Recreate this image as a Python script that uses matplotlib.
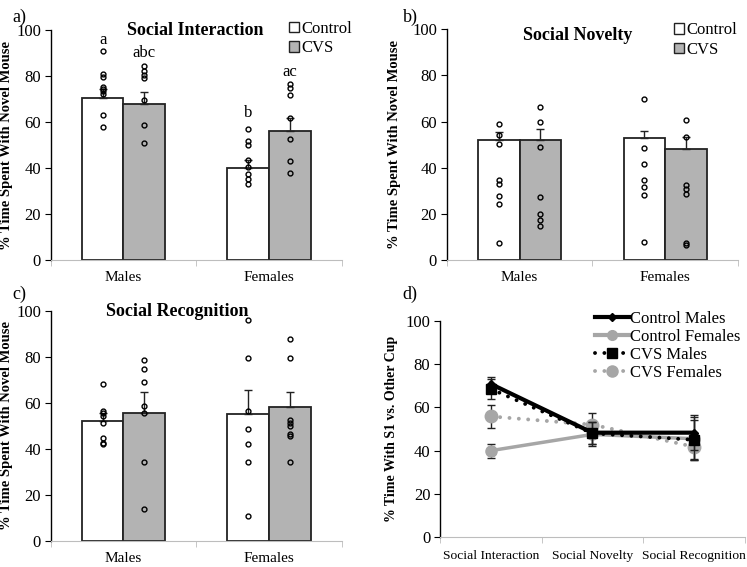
import matplotlib.pyplot as plt
from matplotlib.patches import Patch
from matplotlib.lines import Line2D

plt.rcParams['font.family'] = ['Liberation Serif', 'DejaVu Serif']

groups = ['Males', 'Females']
ctrl_color = 'white'
cvs_color = '#b3b3b3'

# a) social interaction
si_ctrl_mean = [70.4, 40.0]
si_ctrl_sem = [3.8, 3.3]
si_cvs_mean = [67.8, 55.9]
si_cvs_sem = [5.2, 6.0]
si_ctrl_pts = [[90.9, 80.9, 79.4, 75.2, 74.5, 73.5, 72.3, 62.9, 57.7],
               [57.0, 51.6, 49.9, 43.3, 40.4, 37.2, 35.2, 33.0]]
si_cvs_pts = [[84.2, 82.0, 80.6, 79.3, 69.4, 58.8, 50.9],
              [76.4, 74.8, 71.6, 61.9, 52.8, 43.0, 37.7]]
si_letters = [['a', 'abc'], ['b', 'ac']]

# b) social novelty
sn_ctrl_mean = [51.9, 52.7]
sn_ctrl_sem = [3.7, 3.2]
sn_cvs_mean = [51.9, 48.1]
sn_cvs_sem = [4.9, 5.2]
sn_ctrl_pts = [[59.0, 54.2, 50.4, 34.7, 33.0, 27.6, 24.4, 7.4],
               [69.8, 48.7, 41.8, 34.7, 31.5, 28.3, 7.9]]
sn_cvs_pts = [[66.3, 60.0, 49.1, 27.5, 19.8, 17.3, 14.7],
              [60.7, 53.3, 32.5, 30.8, 28.5, 7.2, 6.4]]

# c) social recognition
sr_ctrl_mean = [52.0, 54.9]
sr_ctrl_sem = [3.4, 10.6]
sr_cvs_mean = [55.4, 58.0]
sr_cvs_sem = [9.1, 6.6]
sr_ctrl_pts = [[68.3, 56.5, 55.5, 54.2, 51.0, 44.8, 42.6, 41.9],
               [95.8, 79.3, 56.5, 48.4, 42.0, 34.3, 10.9]]
sr_cvs_pts = [[78.4, 74.8, 69.0, 58.7, 55.4, 34.1, 13.8],
              [87.8, 79.3, 52.3, 51.0, 50.0, 46.2, 45.7, 34.3]]

# d) time with S1 vs other cup
tests = ['Social Interaction', 'Social Novelty', 'Social Recognition']
ctrl_m = [70.8, 48.3, 48.3]
ctrl_m_err = [3.4, 5.0, 8.0]
ctrl_f = [40.0, 47.5, 45.5]
ctrl_f_err = [3.3, 5.5, 10.0]
cvs_m = [68.5, 48.0, 45.0]
cvs_m_err = [4.5, 5.0, 9.0]
cvs_f = [55.8, 52.0, 41.8]
cvs_f_err = [5.2, 5.2, 6.0]

fig = plt.figure(figsize=(7.47, 5.67), dpi=100)

w = 0.286
dots = (0, (0.01, 2.4))


def style_axis(ax, ncat, ylabel, xlab):
    ax.set_xlim(0, ncat)
    ax.set_ylim(0, 100)
    ax.set_yticks(range(0, 101, 20))
    ax.spines['top'].set_visible(False)
    ax.spines['right'].set_visible(False)
    ax.spines['bottom'].set_color('#bdbdbd')
    ax.spines['left'].set_linewidth(1.0)
    ax.set_xticks([i + 0.5 for i in range(ncat)])
    ax.set_xticklabels(xlab)
    ax.set_xticks(range(ncat + 1), minor=True)
    ax.tick_params(axis='x', which='major', length=0, pad=8, labelsize=11)
    ax.tick_params(axis='x', which='minor', length=4, color='#bdbdbd')
    ax.tick_params(axis='y', length=4, pad=3, labelsize=12)
    ax.set_ylabel(ylabel, fontweight='bold', fontsize=10.5)


def draw_bars(ax, cm, cs, vm, vs, cp, vp):
    xc = [i + 0.5 - w for i in range(2)]
    xv = [i + 0.5 for i in range(2)]
    ax.bar(xc, cm, width=w, align='edge', color=ctrl_color, edgecolor='#222222', linewidth=1.3, zorder=2)
    ax.bar(xv, vm, width=w, align='edge', color=cvs_color, edgecolor='#222222', linewidth=1.3, zorder=2)
    ax.errorbar([x + w / 2 for x in xc], cm, yerr=[[0, 0], cs], fmt='none', ecolor='#222222',
                elinewidth=1, capsize=3, zorder=3)
    ax.errorbar([x + w / 2 for x in xv], vm, yerr=[[0, 0], vs], fmt='none', ecolor='#222222',
                elinewidth=1, capsize=3, zorder=3)
    for i in range(2):
        ax.plot([xc[i] + w / 2] * len(cp[i]), cp[i], 'o', mfc='none', mec='black', ms=3.5, mew=1, zorder=4)
        ax.plot([xv[i] + w / 2] * len(vp[i]), vp[i], 'o', mfc='none', mec='black', ms=3.5, mew=1, zorder=4)


def bar_legend(ax, x, y):
    handles = [Patch(facecolor=ctrl_color, edgecolor='#222222', linewidth=1),
               Patch(facecolor=cvs_color, edgecolor='#222222', linewidth=1)]
    ax.legend(handles, ['Control', 'CVS'], loc='upper left', bbox_to_anchor=(x, y), frameon=False,
              fontsize=12, handlelength=0.6, handleheight=0.6, handletextpad=0.15, labelspacing=0.2,
              borderaxespad=0, borderpad=0)


ylab = '% Time Spent With Novel Mouse'

# a)
ax1 = fig.add_axes([0.0679, 0.5414, 0.3896, 0.4056])
draw_bars(ax1, si_ctrl_mean, si_ctrl_sem, si_cvs_mean, si_cvs_sem, si_ctrl_pts, si_cvs_pts)
style_axis(ax1, 2, ylab, groups)
letter_y = [[95.6, 89.9], [63.8, 81.9]]
for i in range(2):
    ax1.text(i + 0.5 - w / 2, letter_y[i][0], si_letters[i][0], ha='center', va='center', fontsize=12)
    ax1.text(i + 0.5 + w / 2, letter_y[i][1], si_letters[i][1], ha='center', va='center', fontsize=12)
ax1.text(0.496, 1.0, 'Social Interaction', transform=ax1.transAxes, ha='center', va='center',
         fontsize=13, fontweight='bold')
bar_legend(ax1, 0.82, 1.04)
ax1.yaxis.set_label_coords(-0.128, 0.5)

# b)
ax2 = fig.add_axes([0.598, 0.5414, 0.390, 0.4070])
draw_bars(ax2, sn_ctrl_mean, sn_ctrl_sem, sn_cvs_mean, sn_cvs_sem, sn_ctrl_pts, sn_cvs_pts)
style_axis(ax2, 2, ylab, groups)
ax2.text(0.45, 0.975, 'Social Novelty', transform=ax2.transAxes, ha='center', va='center',
         fontsize=13, fontweight='bold')
bar_legend(ax2, 0.78, 1.03)
ax2.yaxis.set_label_coords(-0.158, 0.5)

# c)
ax3 = fig.add_axes([0.0679, 0.0464, 0.3896, 0.4056])
draw_bars(ax3, sr_ctrl_mean, sr_ctrl_sem, sr_cvs_mean, sr_cvs_sem, sr_ctrl_pts, sr_cvs_pts)
style_axis(ax3, 2, ylab, groups)
ax3.text(0.436, 0.995, 'Social Recognition', transform=ax3.transAxes, ha='center', va='center',
         fontsize=13, fontweight='bold')
ax3.yaxis.set_label_coords(-0.128, 0.5)

# d)
ax4 = fig.add_axes([0.589, 0.0524, 0.408, 0.382])
xs = [0.5, 1.5, 2.5]
gray = '#a6a6a6'
ax4.errorbar(xs, ctrl_f, yerr=ctrl_f_err, color=gray, lw=2.5, marker='o', ms=8, mfc=gray, mec=gray,
             ecolor='#222222', elinewidth=1, capsize=3, zorder=3)
ax4.errorbar(xs, cvs_f, yerr=cvs_f_err, color=gray, lw=2.8, ls=dots, dash_capstyle='round',
             marker='o', ms=9, mfc=gray, mec=gray, ecolor='#222222', elinewidth=1, capsize=3, zorder=3)
ax4.errorbar(xs, ctrl_m, yerr=ctrl_m_err, color='black', lw=3, marker='D', ms=4.5,
             ecolor='#222222', elinewidth=1, capsize=3, zorder=4)
ax4.errorbar(xs, cvs_m, yerr=cvs_m_err, color='black', lw=2.8, ls=dots, dash_capstyle='round',
             marker='s', ms=7, ecolor='#222222', elinewidth=1, capsize=3, zorder=4)
style_axis(ax4, 3, '% Time With S1 vs. Other Cup', tests)
ax4.set_ylabel('% Time With S1 vs. Other Cup', fontweight='bold', fontsize=10)
ax4.tick_params(axis='x', which='major', labelsize=9.7, pad=9)
ax4.yaxis.set_label_coords(-0.138, 0.5)
leg_handles = [
    Line2D([], [], color='black', lw=3, marker='D', ms=4.5),
    Line2D([], [], color=gray, lw=3, marker='o', ms=7),
    Line2D([], [], color='black', lw=2.8, ls=dots, dash_capstyle='round', marker='s', ms=7),
    Line2D([], [], color=gray, lw=2.8, ls=dots, dash_capstyle='round', marker='o', ms=8),
]
ax4.legend(leg_handles, ['Control Males', 'Control Females', 'CVS Males', 'CVS Females'],
           loc='upper left', bbox_to_anchor=(0.51, 1.045), frameon=False, fontsize=12,
           handlelength=2.0, handletextpad=0.05, labelspacing=0.12, borderaxespad=0, borderpad=0)

# panel letters
fig.text(0.016, 0.985, 'a)', fontsize=13, va='top')
fig.text(0.540, 0.985, 'b)', fontsize=13, va='top')
fig.text(0.016, 0.497, 'c)', fontsize=13, va='top')
fig.text(0.538, 0.497, 'd)', fontsize=13, va='top')

fig.savefig('out.png', dpi=100)
